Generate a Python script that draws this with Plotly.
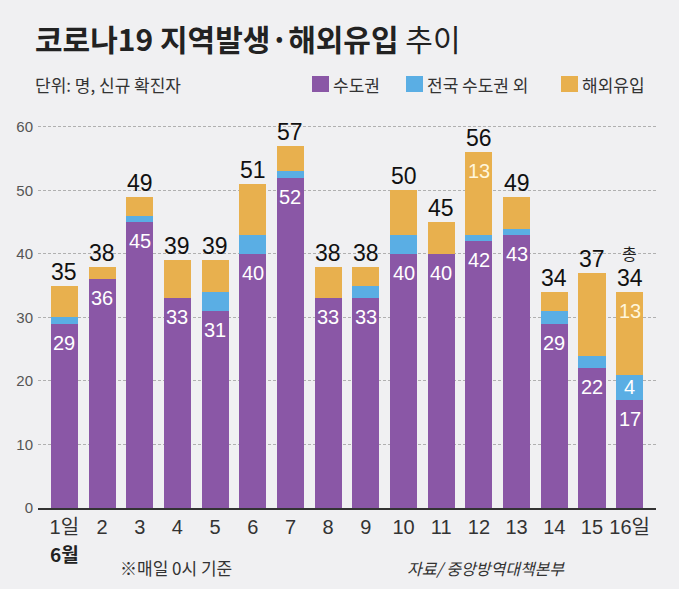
import plotly.graph_objects as go

# ---------------- data ----------------
days = ["1일", "2", "3", "4", "5", "6", "7", "8", "9", "10", "11", "12", "13", "14", "15", "16일"]
capital = [29, 36, 45, 33, 31, 40, 52, 33, 33, 40, 40, 42, 43, 29, 22, 17]
non_capital = [1, 0, 1, 0, 3, 3, 1, 0, 2, 3, 0, 1, 1, 2, 2, 4]
overseas = [5, 2, 3, 6, 5, 8, 4, 5, 3, 7, 5, 13, 5, 3, 13, 13]
totals = [35, 38, 49, 39, 39, 51, 57, 38, 38, 50, 45, 56, 49, 34, 37, 34]
series_names = ["수도권", "전국 수도권 외", "해외유입"]
show_capital_label = [True] * 16
show_noncap_label = [False] * 15 + [True]
show_overseas_label = [False] * 11 + [True] + [False] * 3 + [True]
y_ticks = [0, 10, 20, 30, 40, 50, 60]

title_bold = "코로나19 지역발생·해외유입"
title_light = "추이"
subtitle = "단위: 명, 신규 확진자"
month_label = "6월"
note_text = "※매일 0시 기준"
source_text = "자료/ 중앙방역대책본부"
total_prefix = "총"

# ---------------- style ----------------
W, H = 679, 589
L, R, T, B = 38, 23, 125, 81
colors = ["#8a57a6", "#5aaee4", "#e8b04e"]
bg = "#f0f0f2"
num_font = "Liberation Sans, Arial, Noto Sans CJK KR, sans-serif"
kr_font = "Noto Sans CJK KR, sans-serif"


def px(xp):
    return (xp - L) / (W - L - R)


def py(yp):
    return (H - B - yp) / (H - T - B)


fig = go.Figure()
for name, vals, col in zip(series_names, [capital, non_capital, overseas], colors):
    fig.add_trace(go.Bar(x=days, y=vals, name=name, marker=dict(color=col, line=dict(width=0)),
                         showlegend=False, hoverinfo="skip"))

ann = []
for i, d in enumerate(days):
    # totals above bars (x given as category index)
    ann.append(dict(x=i, y=totals[i], text=str(totals[i]), showarrow=False, yanchor="middle",
                    yshift=14, font=dict(family=num_font, size=23, color="#111")))
    if show_capital_label[i]:
        ann.append(dict(x=i, y=capital[i], text=str(capital[i]), showarrow=False, yanchor="middle",
                        yshift=-19, font=dict(family=num_font, size=20, color="white")))
    if show_noncap_label[i]:
        ann.append(dict(x=i, y=capital[i] + non_capital[i] / 2, text=str(non_capital[i]), showarrow=False,
                        yanchor="middle", font=dict(family=num_font, size=20, color="white")))
    if show_overseas_label[i]:
        ann.append(dict(x=i, y=totals[i], text=str(overseas[i]), showarrow=False, yanchor="middle",
                        yshift=-19, font=dict(family=num_font, size=20, color="#fff6dc")))

# "총" above last total
ann.append(dict(x=len(days) - 1, y=totals[-1], text=total_prefix, showarrow=False, yanchor="middle",
                yshift=39, borderpad=0, font=dict(family=kr_font, size=16, color="#222")))

# month label under first tick
ann.append(dict(x=0, y=py(553), yref="paper", text="<b>" + month_label + "</b>", showarrow=False,
                yanchor="middle", font=dict(family=kr_font, size=19, color="#222")))

# title / subtitle
ann.append(dict(x=px(33), y=py(38), xref="paper", yref="paper", xanchor="left", yanchor="middle",
                text="<b>" + title_bold + "</b> " + title_light, showarrow=False,
                font=dict(family=kr_font, size=30, color="#222")))
ann.append(dict(x=px(33), y=py(84), xref="paper", yref="paper", xanchor="left", yanchor="middle",
                text=subtitle, showarrow=False, font=dict(family=kr_font, size=17, color="#333")))

# footnotes
ann.append(dict(x=px(118), y=py(567), xref="paper", yref="paper", xanchor="left", yanchor="middle",
                text=note_text, showarrow=False, font=dict(family=kr_font, size=17, color="#333")))
ann.append(dict(x=px(405), y=py(568), xref="paper", yref="paper", xanchor="left", yanchor="middle",
                text=source_text, showarrow=False,
                font=dict(family=kr_font, size=16, color="#333", style="italic")))

# manual legend
shapes = []
leg_sq = [312, 406, 561]
for name, col, x0 in zip(series_names, colors, leg_sq):
    shapes.append(dict(type="rect", xref="paper", yref="paper", x0=px(x0), x1=px(x0 + 17),
                       y0=py(92), y1=py(76), fillcolor=col, line=dict(width=0)))
    ann.append(dict(x=px(x0 + 19), y=py(84), xref="paper", yref="paper", xanchor="left", yanchor="middle",
                    text=name, showarrow=False, font=dict(family=kr_font, size=17, color="#333")))

fig.update_layout(
    barmode="stack", bargap=0.28,
    width=W, height=H, margin=dict(l=L, r=R, t=T, b=B),
    paper_bgcolor=bg, plot_bgcolor=bg,
    annotations=ann, shapes=shapes,
    xaxis=dict(type="category", range=[-0.7, 15.7], showgrid=False, showline=True,
               linecolor="#333", linewidth=1.5, ticks="",
               tickfont=dict(family=num_font + ", " + kr_font, size=20, color="#333"),
               fixedrange=True),
    yaxis=dict(range=[0, 60.3], tickvals=y_ticks, showgrid=True, gridcolor="#b0b0b0", griddash="3px,2px",
               gridwidth=1, zeroline=False, showline=False, ticks="", ticklabelstandoff=4,
               tickfont=dict(family=num_font, size=15, color="#555"), fixedrange=True),
)

fig.write_html("out.html")
